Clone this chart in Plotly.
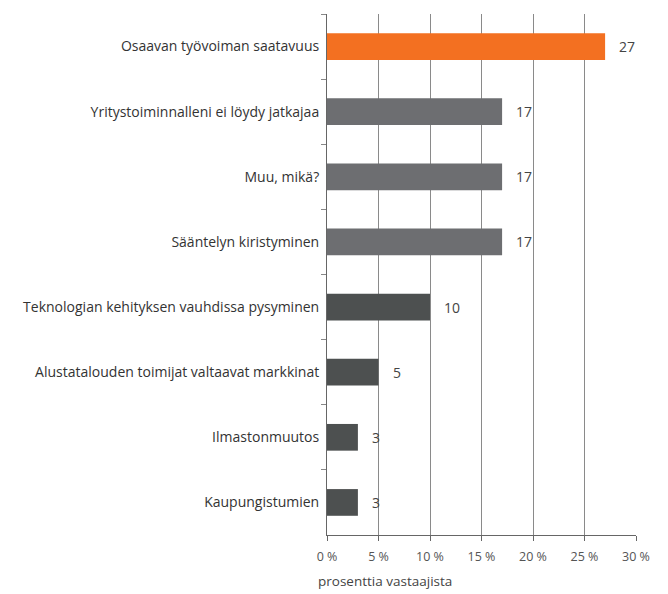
import plotly.graph_objects as go

categories = [
    "Osaavan työvoiman saatavuus",
    "Yritystoiminnalleni ei löydy jatkajaa",
    "Muu, mikä?",
    "Sääntelyn kiristyminen",
    "Teknologian kehityksen vauhdissa pysyminen",
    "Alustatalouden toimijat valtaavat markkinat",
    "Ilmastonmuutos",
    "Kaupungistumien",
]
values = [27, 17, 17, 17, 10, 5, 3, 3]
bar_colors = ["#F37021", "#6D6E71", "#6D6E71", "#6D6E71",
              "#4D5050", "#4D5050", "#4D5050", "#4D5050"]
x_ticks = [0, 5, 10, 15, 20, 25, 30]
x_tick_labels = ["0 %", "5 %", "10 %", "15 %", "20 %", "25 %", "30 %"]
axis_title = "prosenttia vastaajista"

font_family = "'Open Sans', Roboto, sans-serif"

fig = go.Figure()
fig.add_trace(go.Bar(
    x=values,
    y=categories,
    orientation="h",
    marker=dict(color=bar_colors, line=dict(width=0)),
    width=0.41,
    hoverinfo="x+y",
))

for c, v in zip(categories, values):
    fig.add_annotation(
        x=v, y=c, text=str(v), showarrow=False,
        xanchor="left", xshift=12,
        font=dict(family=font_family, size=14, color="#444444"),
    )

fig.add_annotation(
    xref="paper", yref="paper", x=0, y=0,
    text=axis_title, showarrow=False,
    xanchor="left", yanchor="top", xshift=-11, yshift=-35,
    font=dict(family=font_family, size=13.5, color="#444444"),
)

fig.update_layout(
    width=660, height=586,
    margin=dict(l=319, r=32, t=6, b=59),
    plot_bgcolor="white", paper_bgcolor="white",
    showlegend=False,
    font=dict(family=font_family, size=14, color="#333333"),
)
fig.update_xaxes(
    range=[0, 30],
    tickvals=x_ticks, ticktext=x_tick_labels,
    showgrid=True, gridcolor="#8a8a8a", gridwidth=1,
    zeroline=False,
    showline=True, linecolor="#666666", linewidth=1,
    ticks="outside", ticklen=5, tickcolor="#666666",
    tickfont=dict(family=font_family, size=12.5, color="#555555"),
    ticklabelstandoff=5,
    automargin=False,
    fixedrange=True,
)
fig.update_yaxes(
    categoryorder="array", categoryarray=categories,
    autorange="reversed",
    tickson="boundaries",
    ticks="outside", ticklen=5, tickcolor="#888888",
    showline=True, linecolor="#666666", linewidth=1,
    showgrid=False,
    tickfont=dict(family=font_family, size=14, color="#333333"),
    ticklabelstandoff=4,
    automargin=False,
    fixedrange=True,
)

fig.write_html("out.html")
